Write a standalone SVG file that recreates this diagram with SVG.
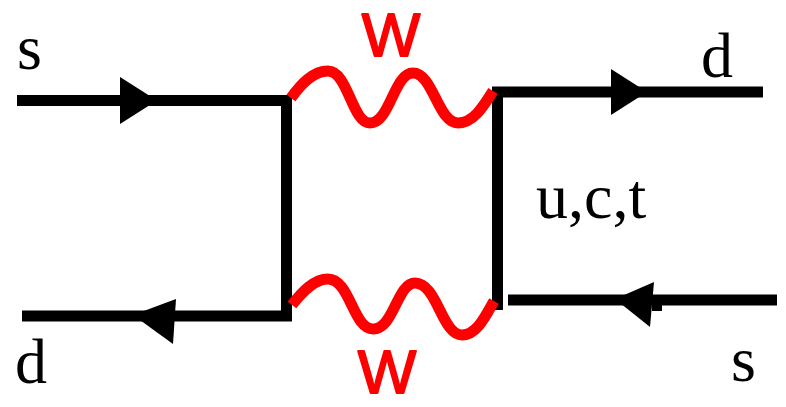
<svg xmlns="http://www.w3.org/2000/svg" width="786" height="407" viewBox="0 0 786 407">
  <style>
    .q { fill: none; stroke: #000; stroke-width: 11; stroke-linejoin: miter; stroke-linecap: butt; }
    .w { fill: none; stroke: #ff0000; stroke-width: 11; stroke-linecap: butt; stroke-linejoin: round; }
    .arrow { fill: #000; stroke: none; }
    .lbl { font-family: "Liberation Serif", "Times New Roman", serif; font-size: 64px; fill: #000; }
    .wl { font-family: "Liberation Sans", Arial, sans-serif; font-size: 62px; fill: #ff0000; stroke: #ff0000; stroke-width: 1.8; stroke-linejoin: round; text-anchor: middle; }
  </style>
  <rect width="786" height="407" fill="#fff"/>
  <g id="connectors">
    <path class="q" d="M17,100.5 H286.5 V316 H22"/>
    <path class="q" d="M763,92 H497.5 V310"/>
    <path class="q" d="M508,300 H777"/>
    <path class="w" d="M291,98 C301,84 313,71 328,71 C348,71 352,123 370,123 C390,123 394,73 413,73 C433,73 438,123 458,123 C474,123 484,105 493,91"/>
    <path class="w" d="M292,305 C302,292 314,279 328,279 C350,279 353,329 373,329 C394,329 397,283 415,283 C437,283 442,335 462,335 C477,335 486,315 494,301"/>
    <polygon class="arrow" points="120,77 157,100.5 120,124"/>
    <polygon class="arrow" points="611,69 647,92 611,115"/>
    <polygon class="arrow" points="133,315 176,299 173,344"/>
    <polygon class="arrow" points="615,299 654,282 650,327"/>
    <rect class="arrow" x="652" y="303" width="10" height="8"/>
  </g>
  <g id="label-s-in"><text class="lbl" x="17" y="69">s</text></g>
  <g id="label-d-out-top"><text class="lbl" x="701" y="77">d</text></g>
  <g id="label-d-out-bottom"><text class="lbl" x="15" y="383">d</text></g>
  <g id="label-s-bottom"><text class="lbl" x="731" y="381">s</text></g>
  <g id="label-uct"><text class="lbl" x="536" y="218">u,c,t</text></g>
  <g id="label-W-top"><text class="wl" x="391" y="56">W</text></g>
  <g id="label-W-bottom"><text class="wl" x="387" y="393">W</text></g>
</svg>
